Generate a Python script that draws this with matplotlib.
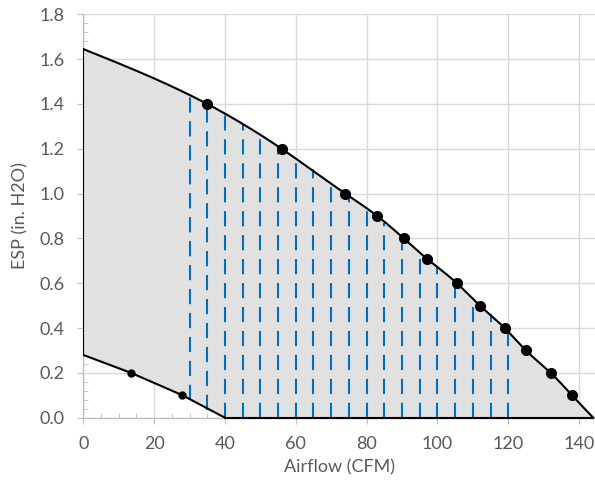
import numpy as np
import matplotlib.pyplot as plt
from matplotlib.ticker import MultipleLocator, FormatStrFormatter

plt.rcParams['font.family'] = ['Lato', 'DejaVu Sans']

# fan curve (upper boundary)
upper_x = [0, 35, 56, 74, 83, 90.5, 97, 105.5, 112, 119, 125, 132, 138, 144]
upper_y = [1.645, 1.40, 1.20, 1.00, 0.90, 0.80, 0.71, 0.60, 0.50, 0.40, 0.30, 0.20, 0.10, 0.0]

# lower boundary
lower_x = [0, 13.5, 28, 40]
lower_y = [0.28, 0.20, 0.10, 0.0]

# operating lines
op_x = [30, 35, 40, 45, 50, 55, 60, 65, 70, 75, 80, 85, 90, 95, 100, 105, 110, 115, 120]
op_top = [1.45, 1.40, 1.36, 1.31, 1.26, 1.21, 1.16, 1.11, 1.055, 0.99, 0.935,
          0.87, 0.805, 0.74, 0.674, 0.60, 0.52, 0.463, 0.384]
op_bottom = [0.08, 0.035, 0, 0, 0, 0, 0, 0, 0, 0, 0, 0, 0, 0, 0, 0, 0, 0, 0]


def smooth(xs, ys, n=400):
    # natural cubic spline through the points, for a smoothed line
    x = np.asarray(xs, float)
    y = np.asarray(ys, float)
    k = len(x)
    h = np.diff(x)
    A = np.zeros((k, k))
    r = np.zeros(k)
    A[0, 0] = A[-1, -1] = 1
    for i in range(1, k - 1):
        A[i, i - 1] = h[i - 1]
        A[i, i] = 2 * (h[i - 1] + h[i])
        A[i, i + 1] = h[i]
        r[i] = 6 * ((y[i + 1] - y[i]) / h[i] - (y[i] - y[i - 1]) / h[i - 1])
    m = np.linalg.solve(A, r)
    xx = np.linspace(x[0], x[-1], n)
    j = np.clip(np.searchsorted(x, xx) - 1, 0, k - 2)
    t = xx - x[j]
    hj = h[j]
    yy = (m[j] * (x[j + 1] - xx) ** 3 / (6 * hj) + m[j + 1] * t ** 3 / (6 * hj)
          + (y[j] / hj - m[j] * hj / 6) * (x[j + 1] - xx)
          + (y[j + 1] / hj - m[j + 1] * hj / 6) * t)
    return xx, yy


ux, uy = smooth(upper_x, upper_y)
lx, ly = lower_x, lower_y

fig = plt.figure(figsize=(5.95, 4.87), dpi=100)
ax = fig.add_axes([0.14, 0.1423, 0.86, 0.8283])

# shaded region
poly_x = np.concatenate([[lx[-1]], lx[::-1], ux, [lx[-1]]])
poly_y = np.concatenate([[0], ly[::-1], uy, [0]])
ax.fill(poly_x, poly_y, color='#E1E1E1', zorder=1)

# dashed operating lines
for x, b, t in zip(op_x, op_bottom, op_top):
    ax.plot([x, x], [b, t], color='#0070C0', lw=1.5, dashes=(7.3, 4.2), zorder=3)

# boundaries
ax.plot(ux, uy, color='black', lw=1.5, zorder=4)
ax.plot(lx, ly, color='black', lw=1.5, zorder=4)
ax.plot([0, 0], [lower_y[0], upper_y[0]], color='black', lw=1.5, zorder=4)
ax.plot([lower_x[-1], upper_x[-1]], [0, 0], color='black', lw=1.5, zorder=4, clip_on=False)

ax.plot(upper_x[1:-1], upper_y[1:-1], 'o', color='black', ms=7, zorder=5)
ax.plot(lower_x[1:-1], lower_y[1:-1], 'o', color='black', ms=5, zorder=5)

ax.set_xlim(0, 144.5)
ax.set_ylim(0, 1.8)
ax.xaxis.set_major_locator(MultipleLocator(20))
ax.xaxis.set_minor_locator(MultipleLocator(5))
ax.yaxis.set_major_locator(MultipleLocator(0.2))
ax.yaxis.set_minor_locator(MultipleLocator(0.04))
ax.yaxis.set_major_formatter(FormatStrFormatter('%.1f'))

ax.grid(True, which='major', color='#D9D9D9', lw=1.0, zorder=0)
ax.set_axisbelow(True)
for s in ['top', 'right']:
    ax.spines[s].set_visible(False)
for s in ['left', 'bottom']:
    ax.spines[s].set_color('#BFBFBF')
    ax.spines[s].set_linewidth(1.0)

ax.tick_params(which='major', direction='out', length=4.5, color='#BFBFBF',
               labelcolor='#595959', labelsize=13, pad=9)
ax.tick_params(which='minor', direction='in', length=3.5, color='#BFBFBF')

ax.set_xlabel('Airflow (CFM)', fontsize=13, color='#595959', labelpad=5)
ax.set_ylabel('ESP (in. H2O)', fontsize=13, color='#595959', labelpad=8)

fig.savefig('out.png', dpi=100)
